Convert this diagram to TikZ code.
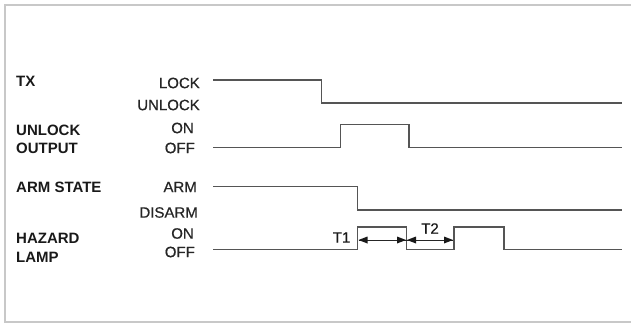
\documentclass[tikz,border=0pt]{standalone}
\usepackage{fontspec}
\setmainfont{Liberation Sans}
\newfontfamily\medfont[FakeBold=0.6]{Liberation Sans}
\usetikzlibrary{calc}
\definecolor{sig}{HTML}{555555}
\definecolor{frame}{HTML}{C8C8C8}
\tikzset{
  sigline/.style={draw=sig, line width=1.5pt, line join=miter},
  namelbl/.style={anchor=west, inner sep=0pt, font=\fontsize{15}{17}\selectfont\bfseries, text=black!90},
  statelbl/.style={anchor=east, inner sep=0pt, font=\fontsize{15}{17}\medfont, text=black!85},
  tlbl/.style={inner sep=0pt, font=\fontsize{15}{17}\medfont, text=black!90},
  dimline/.style={draw=black!85, line width=1pt},
  tiphead/.style={fill=black!90},
}
\begin{document}
\begin{tikzpicture}[x=1pt,y=-1pt]
\useasboundingbox (0,0) rectangle (631,324);
% frame (open on the right)
\draw[frame, line width=2pt] (640,5) -- (4.5,5) -- (4.5,322) -- (640,322);

% left names
\node[namelbl] (ntx) at (16,81) {TX};
\node[namelbl] (nuo1) at (16,130) {UNLOCK};
\node[namelbl] (nuo2) at (16,148.5) {OUTPUT};
\node[namelbl] (nas) at (16,187) {ARM STATE};
\node[namelbl] (nhl1) at (16,238.5) {HAZARD};
\node[namelbl] (nhl2) at (16,257) {LAMP};

% state labels
\node[statelbl] (slock) at (200,83) {LOCK};
\node[statelbl] (sunlock) at (200,105) {UNLOCK};
\node[statelbl] (son1) at (194,128) {ON};
\node[statelbl] (soff1) at (195,148) {OFF};
\node[statelbl] (sarm) at (197,187) {ARM};
\node[statelbl] (sdis) at (198,212.5) {DISARM};
\node[statelbl] (son2) at (194,233.5) {ON};
\node[statelbl] (soff2) at (195,252) {OFF};

% TX
\draw[sigline] (213,80) -- (321.5,80) -- (321.5,103) -- (622,103);
% UNLOCK OUTPUT
\draw[sigline] (213,147.5) -- (340.5,147.5) -- (340.5,124.5) -- (409,124.5) -- (409,147.5) -- (622,147.5);
% ARM STATE
\draw[sigline] (213,186.5) -- (357.5,186.5) -- (357.5,210) -- (622,210);
% HAZARD LAMP
\coordinate (h1) at (358.5,240);
\coordinate (h2) at (406.5,240);
\coordinate (h3) at (453,240);
\draw[sigline] (213,249.5) -- (357.5,249.5) -- (357.5,227) -- (406.5,227) -- (406.5,249.5)
  -- (454,249.5) -- (454,227) -- (504,227) -- (504,249.5) -- (622,249.5);

% timing arrows
\draw[dimline] (h1) -- (h2);
\draw[dimline] (h2) -- (h3);
\fill[tiphead] (h1) -- ++(9,-3.5) -- ++(0,7) -- cycle;
\fill[tiphead] ($(h2)+(-0.5,0)$) -- ++(-9,-3.5) -- ++(0,7) -- cycle;
\fill[tiphead] ($(h2)+(0.5,0)$) -- ++(9,-3.5) -- ++(0,7) -- cycle;
\fill[tiphead] (h3) -- ++(-9,-3.5) -- ++(0,7) -- cycle;
\node[tlbl] (t1) at (341.5,237.5) {T1};
\node[tlbl] (t2) at (430,228.5) {T2};
\end{tikzpicture}
\end{document}
